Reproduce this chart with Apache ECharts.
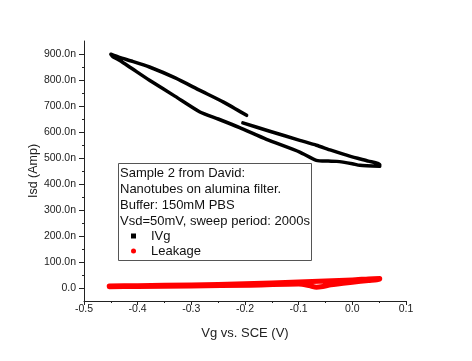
<!DOCTYPE html>
<html>
<head>
<meta charset="utf-8">
<script src="https://cdn.jsdelivr.net/npm/echarts@6/dist/echarts.min.js"></script>
<style>
html,body{margin:0;padding:0;background:#fff;}
#chart{width:472px;height:361px;}
</style>
</head>
<body>
<div id="chart"></div>
<script>
// Gate voltage (V) and current (nA) for the IVg loop
const ivgV = [-0.197, -0.240, -0.284, -0.330, -0.378, -0.410, -0.434, -0.450, -0.446, -0.434, -0.410, -0.378, -0.330, -0.284, -0.250, -0.210, -0.160, -0.098, -0.067, -0.045, -0.029, 0.000, 0.014, 0.051, 0.051, 0.030, -0.005, -0.040, -0.067, -0.098, -0.154, -0.204];
const ivgI = [664, 715, 760, 808, 850, 872, 887, 899, 889, 876, 843, 799, 737, 677, 650, 617, 572, 523, 491, 488, 487, 478, 472, 468, 476, 488, 507, 530, 549, 568, 603, 635];
// Leakage loop
const leakV = [-0.453, -0.400, -0.300, -0.190, -0.100, -0.080, -0.067, -0.055, -0.040, 0.000, 0.030, 0.051, 0.051, 0.030, 0.000, -0.050, -0.100, -0.200, -0.300, -0.400, -0.453];
const leakI = [5, 6, 8, 11, 15, 9, 3, 6, 12, 22, 29, 34, 37, 35, 31, 27, 23, 16, 12, 9, 8];

const xTicks = [-0.5, -0.4, -0.3, -0.2, -0.1, 0.0, 0.1];
const yTicks = [0, 100, 200, 300, 400, 500, 600, 700, 800, 900];
const yMinorTicks = [50, 150, 250, 350, 450, 550, 650, 750, 850];
const noteLines = ['Sample 2 from David:', 'Nanotubes on alumina filter.', 'Buffer: 150mM PBS', 'Vsd=50mV, sweep period: 2000s'];
const seriesNames = ['IVg', 'Leakage'];

const FONT = '"Liberation Sans", Arial, sans-serif';
const AX = '#222';

function pairs(xs, ys) { return xs.map((x, i) => [x, ys[i]]); }

const chart = echarts.init(document.getElementById('chart'), null, {renderer: 'canvas'});
chart.setOption({
  animation: false,
  backgroundColor: '#fff',
  textStyle: {fontFamily: FONT},
  grid: {left: 84, top: 41, right: 66, bottom: 60, containLabel: false},
  xAxis: {
    type: 'value', min: -0.5, max: 0.1, interval: 0.1,
    name: 'Vg vs. SCE (V)', nameLocation: 'middle', nameGap: 26, nameMoveOverlap: false,
    nameTextStyle: {fontSize: 13, color: AX, fontFamily: FONT},
    axisLine: {show: true, onZero: false, lineStyle: {color: AX, width: 1}},
    axisTick: {show: true, inside: false, length: 4, lineStyle: {color: AX}},
    minorTick: {show: true, splitNumber: 2, length: 2, lineStyle: {color: AX}},
    splitLine: {show: false},
    axisLabel: {fontSize: 10.5, color: AX, margin: 3, fontFamily: FONT,
      customValues: xTicks,
      formatter: v => (Math.abs(v) < 1e-9 ? 0 : v).toFixed(1)}
  },
  yAxis: [{
    type: 'value', min: -50, max: 950,
    name: 'Isd (Amp)', nameLocation: 'middle', nameGap: 44, nameMoveOverlap: false,
    nameTextStyle: {fontSize: 12.5, color: AX, fontFamily: FONT},
    axisLine: {show: true, onZero: false, lineStyle: {color: AX, width: 1}},
    axisTick: {show: true, inside: false, length: 5, lineStyle: {color: AX}, customValues: yTicks},
    splitLine: {show: false},
    axisLabel: {fontSize: 10.5, color: AX, margin: 8, fontFamily: FONT,
      customValues: yTicks,
      formatter: v => v === 0 ? '0.0' : v.toFixed(1) + 'n'}
  }, {
    type: 'value', min: -50, max: 950, position: 'left', offset: 0,
    axisLine: {show: false, onZero: false},
    axisTick: {show: true, inside: false, length: 2, lineStyle: {color: AX}, customValues: yMinorTicks},
    axisLabel: {show: false},
    splitLine: {show: false}
  }],
  legend: {
    orient: 'vertical', left: 131, top: 229, padding: 0,
    itemWidth: 5, itemHeight: 5, itemGap: 1,
    data: [{name: seriesNames[0], icon: 'rect'}, {name: seriesNames[1], icon: 'circle'}],
    textStyle: {fontSize: 13, color: '#111', fontFamily: FONT, lineHeight: 14, padding: [0, 0, 0, 10]}
  },
  graphic: [{
    type: 'rect', left: 118, top: 163, z: 1,
    shape: {width: 193, height: 97},
    style: {fill: '#fff', stroke: '#555', lineWidth: 1}
  }, {
    type: 'text', left: 120, top: 166, z: 2,
    style: {text: noteLines.join('\n'), font: '13px ' + FONT, fill: '#111', lineHeight: 15.7}
  }],
  series: [{
    name: seriesNames[0], type: 'line', yAxisIndex: 0,
    data: pairs(ivgV, ivgI), showSymbol: false, symbol: 'rect', smooth: 0.2,
    itemStyle: {color: '#000'},
    lineStyle: {color: '#000', width: 3.5, cap: 'round', join: 'round'}, z: 3
  }, {
    name: seriesNames[1], type: 'line', yAxisIndex: 0,
    data: pairs(leakV, leakI), showSymbol: false, symbol: 'circle', smooth: 0.2,
    itemStyle: {color: '#ff0000'},
    lineStyle: {color: '#ff0000', width: 5, cap: 'round', join: 'round'}, z: 3
  }]
});
</script>
</body>
</html>
